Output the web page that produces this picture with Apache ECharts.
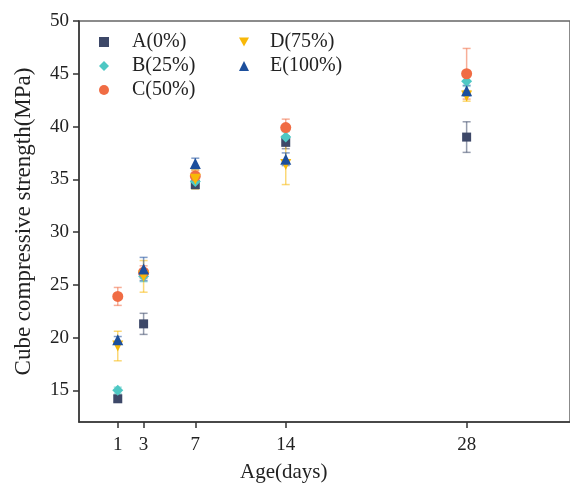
<!DOCTYPE html>
<html>
<head>
<meta charset="utf-8">
<script src="https://cdn.jsdelivr.net/npm/echarts@6/dist/echarts.min.js"></script>
<style>
  html, body { margin: 0; padding: 0; background: #ffffff; }
  #chart { width: 570px; height: 488px; }
</style>
</head>
<body>
<div id="chart"></div>
<script>
// Curing age (days) on the x axis
const ages = [1, 3, 7, 14, 28];
const seriesNames = ['A(0%)', 'B(25%)', 'C(50%)', 'D(75%)', 'E(100%)'];

// Mean cube compressive strength (MPa)
const meanA = [14.2, 21.3, 34.5, 38.5, 39.0];
const meanB = [15.0, 25.8, 34.8, 39.0, 44.3];
const meanC = [23.9, 26.2, 35.3, 39.9, 45.0];
const meanD = [19.2, 25.8, 35.0, 36.4, 42.9];
const meanE = [19.8, 26.5, 36.5, 36.9, 43.4];

// Standard deviation (MPa)
const errA = [0.3, 1.0, 0.4, 0.6, 1.45];
const errB = [0.3, 0.5, 0.4, 0.5, 0.5];
const errC = [0.85, 0.6, 0.5, 0.8, 2.4];
const errD = [1.4, 1.5, 0.9, 1.9, 0.5];
const errE = [0.3, 1.1, 0.5, 0.6, 0.5];

// Tick labels
const xTicks = [1, 3, 7, 14, 28];
const yTicks = [15, 20, 25, 30, 35, 40, 45, 50];

const FONT = 'Liberation Serif';
const colors = ['#3d4868', '#4ec8c4', '#f06c44', '#f8b808', '#1c4f9c'];
// D uses a downward-pointing triangle
const symbols = ['rect', 'diamond', 'circle', 'path://M0,0 L10,0 L5,9 Z', 'triangle'];
const symbolSizes = [9, 11, 11, 11, 11];
const means = [meanA, meanB, meanC, meanD, meanE];
const errs = [errA, errB, errC, errD, errE];

function errorBarRenderer(color) {
  return function (params, api) {
    const x = api.value(0);
    const lo = api.coord([x, api.value(1)]);
    const hi = api.coord([x, api.value(2)]);
    const cap = 4;
    const style = { stroke: color, lineWidth: 1.5, opacity: 0.55 };
    return {
      type: 'group',
      children: [
        { type: 'line', shape: { x1: hi[0], y1: hi[1], x2: lo[0], y2: lo[1] }, style: style },
        { type: 'line', shape: { x1: hi[0] - cap, y1: hi[1], x2: hi[0] + cap, y2: hi[1] }, style: style },
        { type: 'line', shape: { x1: lo[0] - cap, y1: lo[1], x2: lo[0] + cap, y2: lo[1] }, style: style }
      ]
    };
  };
}

const series = [];
seriesNames.forEach(function (name, i) {
  series.push({
    name: name + ' sd',
    type: 'custom',
    renderItem: errorBarRenderer(colors[i]),
    encode: { x: 0, y: [1, 2] },
    data: ages.map(function (a, k) { return [a, means[i][k] - errs[i][k], means[i][k] + errs[i][k]]; }),
    z: 1,
    silent: true
  });
});
seriesNames.forEach(function (name, i) {
  series.push({
    name: name,
    type: 'scatter',
    symbol: symbols[i],
    symbolSize: symbolSizes[i],
    itemStyle: { color: colors[i], opacity: 1 },
    data: ages.map(function (a, k) { return [a, means[i][k]]; }),
    z: 3
  });
});

const legendBase = {
  orient: 'vertical',
  itemWidth: 10,
  itemHeight: 10,
  itemGap: 4,
  textStyle: { fontFamily: FONT, fontSize: 20, color: '#222', lineHeight: 20 }
};

const option = {
  backgroundColor: '#ffffff',
  animation: false,
  color: colors,
  grid: {
    left: 79, top: 21, width: 495, height: 401,
    show: true, borderColor: '#666', borderWidth: 1.5, backgroundColor: 'transparent'
  },
  legend: [
    Object.assign({}, legendBase, {
      data: seriesNames.slice(0, 3), left: 94, top: 27,
      textStyle: Object.assign({}, legendBase.textStyle, { padding: [0, 0, 0, 18] })
    }),
    Object.assign({}, legendBase, {
      data: seriesNames.slice(3), left: 234, top: 27,
      textStyle: Object.assign({}, legendBase.textStyle, { padding: [0, 0, 0, 16] })
    })
  ],
  xAxis: {
    type: 'value', min: -2, max: 36,
    axisLine: { show: true, onZero: false, lineStyle: { color: '#333', width: 1.5 } },
    axisTick: { show: true, inside: false, length: 6, lineStyle: { color: '#333', width: 1.5 }, customValues: xTicks },
    axisLabel: { fontFamily: FONT, fontSize: 19, color: '#222', margin: 14, customValues: xTicks },
    splitLine: { show: false }
  },
  yAxis: {
    type: 'value', min: 12, max: 50,
    name: 'Cube compressive strength(MPa)',
    nameLocation: 'middle', nameGap: 44,
    nameTextStyle: { fontFamily: FONT, fontSize: 23, color: '#222' },
    axisLine: { show: true, onZero: false, lineStyle: { color: '#333', width: 1.5 } },
    axisTick: { show: true, inside: false, length: 6, lineStyle: { color: '#333', width: 1.5 }, customValues: yTicks },
    axisLabel: { fontFamily: FONT, fontSize: 19, color: '#222', margin: 10, customValues: yTicks },
    splitLine: { show: false }
  },
  graphic: [{
    type: 'text', left: 240, top: 462,
    style: { text: 'Age(days)', font: '21px "Liberation Serif"', fill: '#222' }
  }],
  series: series
};

const chart = echarts.init(document.getElementById('chart'), null, { renderer: 'canvas' });
chart.setOption(option);
</script>
</body>
</html>
